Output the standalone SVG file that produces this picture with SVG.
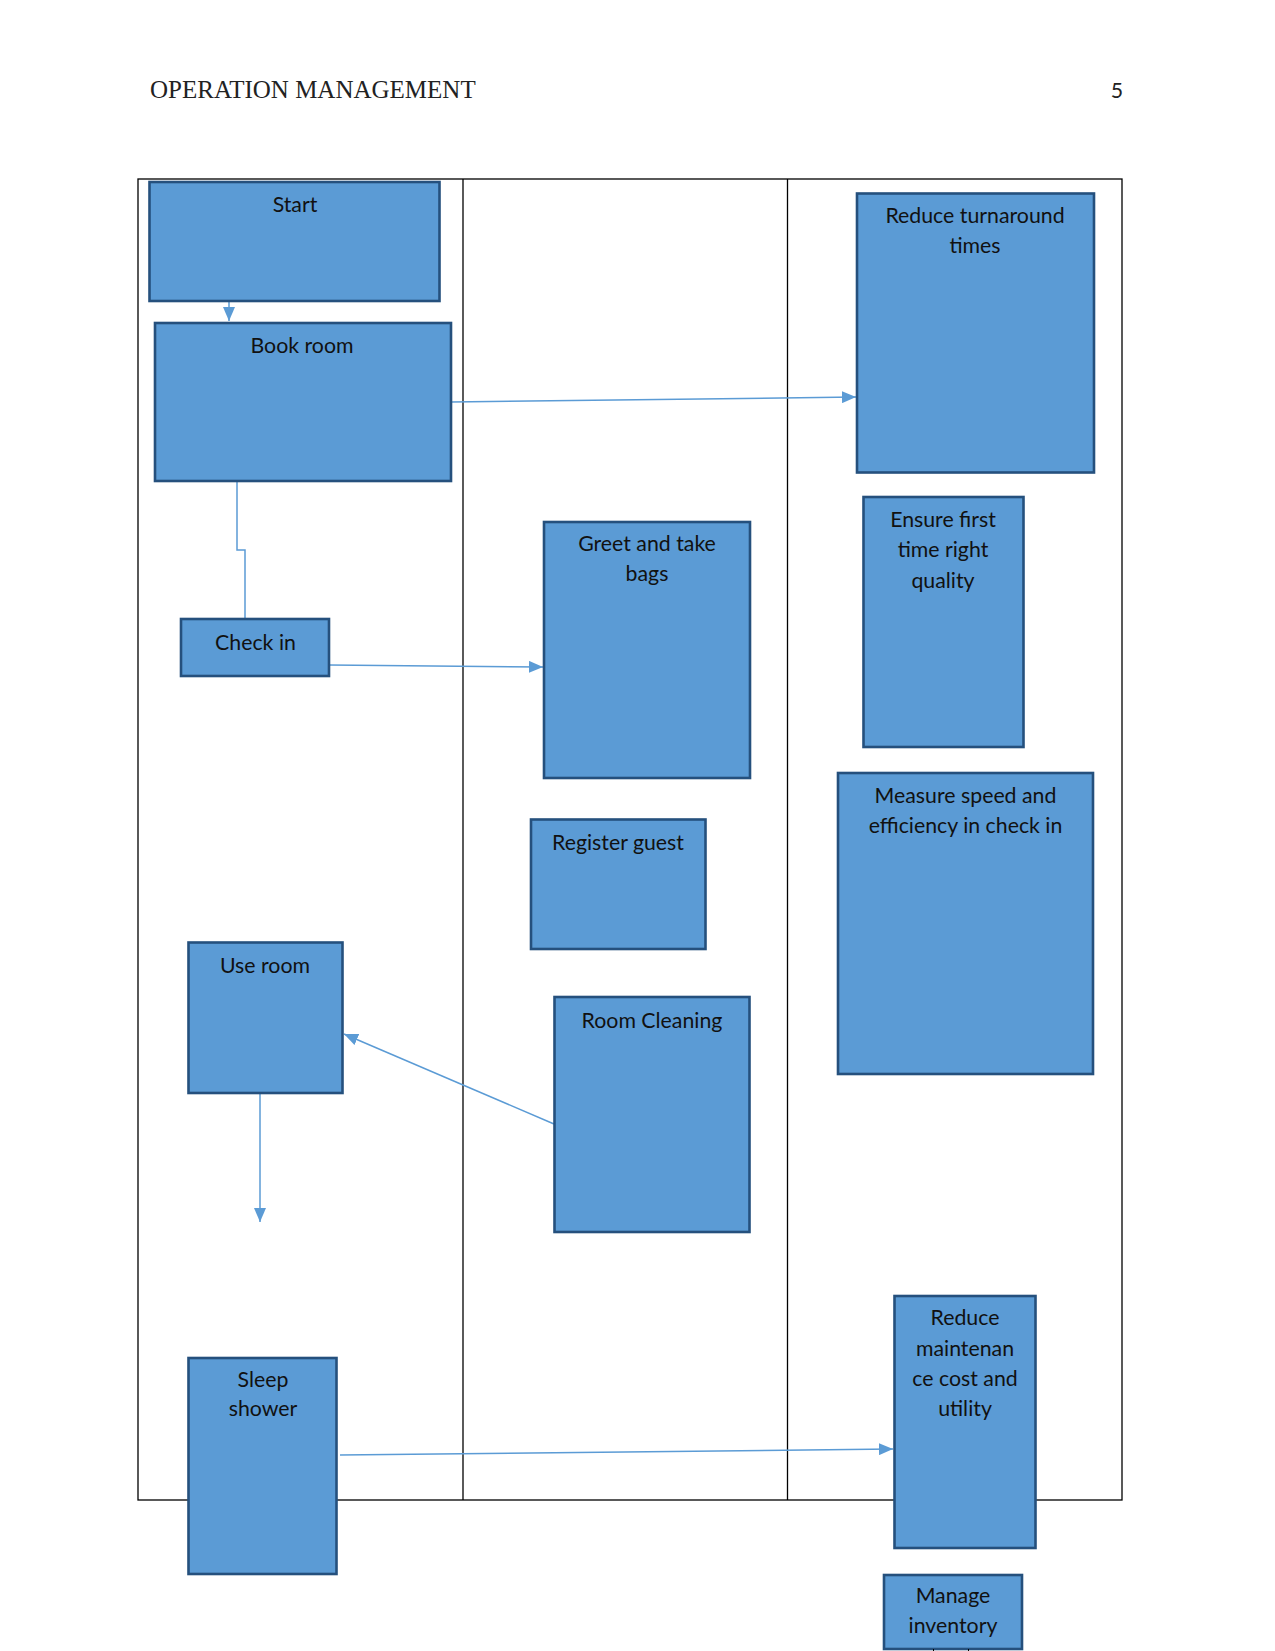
<svg xmlns="http://www.w3.org/2000/svg" width="1275" height="1651" viewBox="0 0 1275 1651">
<style>
.box{fill:#5B9BD5;stroke:#25507D;stroke-width:2.6}
.lbl{font-family:Lato,"Liberation Sans",sans-serif;font-size:21.3px;fill:#111;text-anchor:middle}
.con{fill:none;stroke:#5B9BD5;stroke-width:1.5}
.grid{stroke:#000;stroke-width:1.3;fill:none}
.hdr{font-family:"Liberation Serif",serif;font-size:25px;fill:#222}
</style>
<defs>
<marker id="ah" viewBox="0 0 14 12" refX="14" refY="6" markerWidth="14" markerHeight="12" markerUnits="userSpaceOnUse" orient="auto">
<path d="M0,0 L14,6 L0,12 Z" fill="#5B9BD5"/>
</marker>
</defs>
<rect width="1275" height="1651" fill="#fff"/>
<text class="hdr" x="150" y="98">OPERATION MANAGEMENT</text>
<text x="1123" y="98" font-family="Lato,'Liberation Sans',sans-serif" font-size="21.3" fill="#222" text-anchor="end">5</text>
<g id="lanes">
<rect class="grid" x="138" y="179" width="984" height="1321"/>
<line class="grid" x1="463" y1="179" x2="463" y2="1500"/>
<line class="grid" x1="787.5" y1="179" x2="787.5" y2="1500"/>
</g>
<g id="connectors">
<line class="con" x1="229" y1="301" x2="229" y2="321" marker-end="url(#ah)"/>
<line class="con" x1="451" y1="402" x2="856" y2="397" marker-end="url(#ah)"/>
<polyline class="con" points="237,481 237,550 245,550 245,619"/>
<line class="con" x1="329" y1="665" x2="543" y2="667" marker-end="url(#ah)"/>
<line class="con" x1="554" y1="1124" x2="344" y2="1034" marker-end="url(#ah)"/>
<line class="con" x1="260" y1="1093" x2="260" y2="1222" marker-end="url(#ah)"/>
<line class="con" x1="340" y1="1455" x2="893" y2="1449" marker-end="url(#ah)"/>
</g>
<g id="start"><rect class="box" x="149.5" y="182" width="290" height="119"/><text class="lbl" x="295" y="212">Start</text></g>
<g id="book-room"><rect class="box" x="155" y="323" width="296" height="158"/><text class="lbl" x="302" y="353">Book room</text></g>
<g id="reduce-turnaround"><rect class="box" x="857" y="193.5" width="237" height="279"/><text class="lbl" x="975" y="223">Reduce turnaround</text><text class="lbl" x="975" y="253">times</text></g>
<g id="check-in"><rect class="box" x="181" y="619" width="148" height="57"/><text class="lbl" x="255.5" y="650">Check in</text></g>
<g id="greet"><rect class="box" x="544" y="522" width="206" height="256"/><text class="lbl" x="647" y="551">Greet and take</text><text class="lbl" x="647" y="581">bags</text></g>
<g id="ensure-quality"><rect class="box" x="863.5" y="497" width="160" height="250"/><text class="lbl" x="943" y="527">Ensure first</text><text class="lbl" x="943" y="557">time right</text><text class="lbl" x="943" y="587.5">quality</text></g>
<g id="measure-speed"><rect class="box" x="838" y="773" width="255" height="301"/><text class="lbl" x="965.5" y="803">Measure speed and</text><text class="lbl" x="965.5" y="833">efficiency in check in</text></g>
<g id="register-guest"><rect class="box" x="531" y="819.5" width="174.5" height="129.5"/><text class="lbl" x="618" y="850">Register guest</text></g>
<g id="use-room"><rect class="box" x="188.5" y="942.5" width="154" height="150.5"/><text class="lbl" x="265" y="973">Use room</text></g>
<g id="room-cleaning"><rect class="box" x="554.5" y="997" width="195" height="235"/><text class="lbl" x="652" y="1028">Room Cleaning</text></g>
<g id="sleep-shower"><rect class="box" x="188.5" y="1358" width="148" height="216"/><text class="lbl" x="263" y="1387">Sleep</text><text class="lbl" x="263" y="1416">shower</text></g>
<g id="reduce-maintenance"><rect class="box" x="894.5" y="1296" width="141" height="252"/><text class="lbl" x="965" y="1325">Reduce</text><text class="lbl" x="965" y="1355.5">maintenan</text><text class="lbl" x="965" y="1386">ce cost and</text><text class="lbl" x="965" y="1416">utility</text></g>
<g id="manage-inventory"><rect class="box" x="884" y="1575" width="138" height="74"/><text class="lbl" x="953" y="1603">Manage</text><text class="lbl" x="953" y="1633">inventory</text></g>
<g id="page-edge"><line x1="933.5" y1="1649" x2="933.5" y2="1651" stroke="#000" stroke-width="1"/><line x1="968.5" y1="1649" x2="968.5" y2="1651" stroke="#000" stroke-width="1"/></g>
</svg>
